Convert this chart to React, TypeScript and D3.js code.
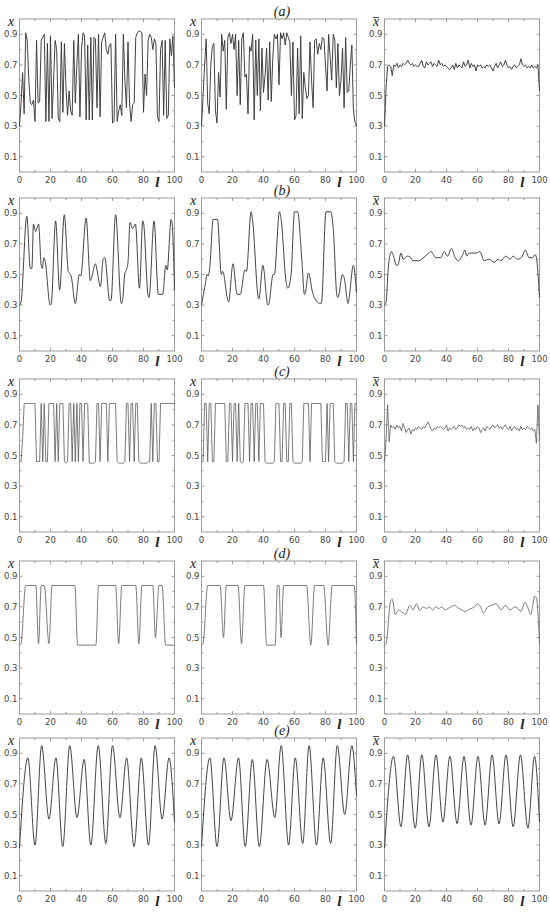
import React from "react";
import * as d3 from "d3";

// chaotic / switching regimes: values sampled at every integer l (0..100)
const aLeft = [
  0.30, 0.45, 0.65, 0.38, 0.91, 0.86, 0.60, 0.45, 0.44, 0.47,
  0.33, 0.86, 0.45, 0.46, 0.86, 0.88, 0.90, 0.33, 0.84, 0.33,
  0.89, 0.35, 0.60, 0.86, 0.80, 0.35, 0.33, 0.85, 0.39, 0.84,
  0.55, 0.37, 0.53, 0.40, 0.37, 0.86, 0.45, 0.70, 0.90, 0.36,
  0.80, 0.91, 0.89, 0.34, 0.83, 0.34, 0.88, 0.34, 0.88, 0.87,
  0.42, 0.90, 0.36, 0.85, 0.88, 0.91, 0.80, 0.77, 0.83, 0.84,
  0.32, 0.33, 0.90, 0.33, 0.40, 0.44, 0.37, 0.90, 0.60, 0.42,
  0.85, 0.45, 0.33, 0.44, 0.45, 0.88, 0.91, 0.92, 0.92, 0.91,
  0.39, 0.64, 0.50, 0.86, 0.90, 0.88, 0.80, 0.87, 0.84, 0.36,
  0.33, 0.80, 0.86, 0.37, 0.86, 0.35, 0.37, 0.87, 0.76, 0.89,
  0.55,
];
const aMiddle = [
  0.30, 0.50, 0.70, 0.87, 0.45, 0.38, 0.70, 0.82, 0.84, 0.40,
  0.32, 0.65, 0.49, 0.90, 0.79, 0.86, 0.41, 0.88, 0.91, 0.84,
  0.90, 0.80, 0.90, 0.50, 0.86, 0.44, 0.87, 0.91, 0.62, 0.64,
  0.38, 0.82, 0.79, 0.90, 0.34, 0.86, 0.50, 0.87, 0.40, 0.81,
  0.52, 0.63, 0.81, 0.47, 0.85, 0.46, 0.75, 0.90, 0.87, 0.90,
  0.57, 0.91, 0.87, 0.91, 0.83, 0.91, 0.88, 0.85, 0.50, 0.85,
  0.34, 0.37, 0.81, 0.38, 0.89, 0.35, 0.65, 0.55, 0.48, 0.50,
  0.85, 0.60, 0.42, 0.86, 0.87, 0.77, 0.84, 0.80, 0.88, 0.87,
  0.70, 0.53, 0.90, 0.75, 0.60, 0.90, 0.86, 0.55, 0.84, 0.50,
  0.60, 0.81, 0.42, 0.88, 0.52, 0.53, 0.70, 0.83, 0.40, 0.33,
  0.30,
];
const aMean = [
  0.30, 0.55, 0.69, 0.70, 0.69, 0.63, 0.70, 0.69, 0.71, 0.68,
  0.70, 0.69, 0.71, 0.70, 0.71, 0.73, 0.71, 0.70, 0.71, 0.69,
  0.70, 0.69, 0.69, 0.71, 0.73, 0.69, 0.68, 0.72, 0.70, 0.71,
  0.72, 0.69, 0.71, 0.70, 0.69, 0.73, 0.70, 0.71, 0.69, 0.70,
  0.69, 0.68, 0.67, 0.68, 0.70, 0.67, 0.71, 0.68, 0.70, 0.69,
  0.68, 0.72, 0.69, 0.70, 0.73, 0.68, 0.71, 0.69, 0.70, 0.66,
  0.70, 0.69, 0.70, 0.68, 0.69, 0.68, 0.70, 0.69, 0.70, 0.68,
  0.66, 0.69, 0.71, 0.68, 0.70, 0.72, 0.69, 0.70, 0.73, 0.70,
  0.68, 0.69, 0.67, 0.69, 0.70, 0.68, 0.69, 0.70, 0.74, 0.70,
  0.69, 0.70, 0.68, 0.69, 0.68, 0.70, 0.68, 0.69, 0.68, 0.70,
  0.53,
];

const cLeft = [
  0.46, 0.46, 0.60, 0.84, 0.84, 0.84, 0.84, 0.84, 0.84, 0.84,
  0.84, 0.46, 0.46, 0.46, 0.84, 0.46, 0.84, 0.46, 0.46, 0.84,
  0.84, 0.84, 0.84, 0.46, 0.84, 0.46, 0.84, 0.84, 0.84, 0.46,
  0.45, 0.46, 0.84, 0.84, 0.46, 0.84, 0.46, 0.84, 0.46, 0.84,
  0.84, 0.46, 0.84, 0.84, 0.84, 0.45, 0.45, 0.45, 0.45, 0.46,
  0.84, 0.84, 0.46, 0.84, 0.84, 0.84, 0.84, 0.46, 0.84, 0.84,
  0.84, 0.84, 0.84, 0.46, 0.45, 0.45, 0.45, 0.45, 0.46, 0.84,
  0.84, 0.46, 0.84, 0.84, 0.46, 0.84, 0.84, 0.46, 0.45, 0.45,
  0.45, 0.45, 0.45, 0.46, 0.46, 0.84, 0.46, 0.84, 0.84, 0.46,
  0.46, 0.84, 0.84, 0.84, 0.84, 0.84, 0.84, 0.84, 0.84, 0.84,
  0.84,
];
const cMiddle = [
  0.46, 0.46, 0.84, 0.84, 0.46, 0.84, 0.84, 0.46, 0.46, 0.84,
  0.84, 0.84, 0.84, 0.84, 0.84, 0.84, 0.46, 0.46, 0.84, 0.84,
  0.46, 0.84, 0.84, 0.46, 0.84, 0.46, 0.45, 0.46, 0.84, 0.84,
  0.84, 0.46, 0.84, 0.84, 0.46, 0.84, 0.84, 0.46, 0.84, 0.84,
  0.84, 0.46, 0.45, 0.45, 0.45, 0.45, 0.45, 0.46, 0.84, 0.84,
  0.84, 0.46, 0.46, 0.84, 0.84, 0.46, 0.46, 0.84, 0.84, 0.46,
  0.45, 0.45, 0.45, 0.45, 0.45, 0.46, 0.84, 0.84, 0.84, 0.84,
  0.46, 0.84, 0.84, 0.84, 0.84, 0.84, 0.84, 0.84, 0.46, 0.46,
  0.46, 0.84, 0.46, 0.84, 0.84, 0.84, 0.46, 0.45, 0.45, 0.45,
  0.45, 0.45, 0.46, 0.84, 0.84, 0.46, 0.84, 0.84, 0.46, 0.84,
  0.84,
];
const cMean = [
  0.46, 0.60, 0.83, 0.59, 0.70, 0.68, 0.69, 0.67, 0.70, 0.68,
  0.69, 0.66, 0.71, 0.68, 0.65, 0.67, 0.68, 0.64, 0.67, 0.66,
  0.68, 0.67, 0.69, 0.68, 0.67, 0.69, 0.68, 0.70, 0.72, 0.70,
  0.67, 0.66, 0.68, 0.67, 0.69, 0.68, 0.69, 0.68, 0.67, 0.68,
  0.70, 0.66, 0.68, 0.67, 0.68, 0.69, 0.67, 0.68, 0.70, 0.69,
  0.70, 0.68, 0.69, 0.67, 0.68, 0.67, 0.69, 0.66, 0.68, 0.67,
  0.69, 0.68, 0.65, 0.67, 0.68, 0.66, 0.69, 0.68, 0.67, 0.69,
  0.70, 0.68, 0.69, 0.70, 0.68, 0.69, 0.67, 0.69, 0.70, 0.68,
  0.67, 0.69, 0.66, 0.68, 0.69, 0.67, 0.68, 0.66, 0.69, 0.67,
  0.68, 0.67, 0.69, 0.68, 0.67, 0.68, 0.66, 0.67, 0.58, 0.83,
  0.60,
];

// smooth regimes: [l, x] key points
const bLeft = [
  [0, 0.30], [1, 0.32], [4.7, 0.88], [7, 0.54], [8, 0.54], [9, 0.83], [10.5, 0.78], [12.3, 0.83],
  [14, 0.56], [14.7, 0.54], [15.7, 0.61], [16.5, 0.59], [19.8, 0.30], [20.5, 0.31], [23.3, 0.85],
  [25.9, 0.40], [28.9, 0.89], [31.5, 0.52], [32.8, 0.50], [33.3, 0.49], [36, 0.31], [38.6, 0.50],
  [39.5, 0.49], [43, 0.87], [45.7, 0.46], [46.5, 0.48], [49, 0.57], [50, 0.53], [52.2, 0.42],
  [54, 0.60], [55, 0.61], [58.2, 0.33], [59, 0.33], [62, 0.89], [65.7, 0.31], [66.5, 0.33],
  [68, 0.51], [69, 0.53], [70, 0.58], [71.3, 0.84], [73, 0.80], [74.8, 0.83], [77.4, 0.41],
  [79.5, 0.85], [80, 0.84], [83, 0.36], [83.6, 0.35], [86.8, 0.85], [89.6, 0.37], [92.4, 0.37],
  [94.4, 0.56], [95.3, 0.53], [97.8, 0.86], [98.5, 0.83], [100, 0.40],
];
const bMiddle = [
  [0, 0.30], [2.5, 0.44], [3.6, 0.50], [4.2, 0.49], [5.4, 0.55], [7.5, 0.86], [10.3, 0.86],
  [12.8, 0.50], [13.7, 0.52], [17, 0.33], [17.5, 0.32], [20.3, 0.57], [23, 0.37], [25, 0.37],
  [28, 0.53], [29, 0.52], [32, 0.91], [33, 0.85], [36.6, 0.35], [37, 0.34], [39.6, 0.56],
  [42.8, 0.30], [43.5, 0.31], [46.2, 0.50], [47, 0.50], [50.3, 0.91], [51.4, 0.86], [54.6, 0.45],
  [55.7, 0.41], [57.8, 0.50], [60, 0.91], [62, 0.91], [64.7, 0.60], [66.4, 0.37], [67, 0.38],
  [69, 0.51], [71.7, 0.38], [73.9, 0.33], [77, 0.31], [77.5, 0.32], [80.3, 0.91], [83.5, 0.91],
  [85, 0.80], [87.4, 0.36], [88, 0.35], [91, 0.50], [92, 0.48], [94.6, 0.31], [95, 0.33],
  [98, 0.56], [100, 0.38],
];
const bMean = [
  [0, 0.30], [1, 0.32], [2.5, 0.55], [4.5, 0.65], [5.5, 0.63], [7.7, 0.56], [8.5, 0.56],
  [10.7, 0.64], [12, 0.60], [14.8, 0.62], [17, 0.61], [18, 0.59], [22, 0.59], [24, 0.60],
  [28.4, 0.64], [30, 0.65], [33, 0.61], [36.3, 0.61], [38.5, 0.65], [40.6, 0.62], [43.2, 0.67],
  [45.6, 0.61], [47.7, 0.59], [50, 0.62], [52, 0.66], [53, 0.62], [54.6, 0.64], [59, 0.64],
  [61.5, 0.65], [64.3, 0.59], [67.5, 0.60], [70.8, 0.58], [73.3, 0.60], [75, 0.59], [78.3, 0.62],
  [80.9, 0.60], [83, 0.62], [85.8, 0.60], [88.4, 0.61], [90.8, 0.66], [93.3, 0.61], [95.5, 0.61],
  [97.2, 0.63], [98, 0.61], [100, 0.35],
];

const dLeft = [
  [0, 0.45], [1, 0.46], [4, 0.84], [10.5, 0.84], [12.3, 0.46], [14, 0.84], [16, 0.84], [19, 0.46],
  [21, 0.84], [35.7, 0.84], [37.5, 0.45], [49.3, 0.45], [51, 0.84], [62, 0.84], [64, 0.46],
  [66, 0.84], [75, 0.84], [77, 0.46], [79, 0.84], [86, 0.84], [87.7, 0.50], [90, 0.84], [92, 0.84],
  [94.3, 0.45], [100, 0.45],
];
const dMiddle = [
  [0, 0.45], [1, 0.46], [4, 0.84], [12, 0.84], [14.2, 0.50], [16, 0.84], [23.6, 0.84], [25.8, 0.46],
  [28, 0.84], [40, 0.84], [42, 0.45], [47.5, 0.45], [49, 0.84], [50, 0.84], [51.3, 0.50], [53, 0.84],
  [67.8, 0.84], [70.5, 0.45], [73, 0.84], [78.8, 0.84], [81.7, 0.45], [84.3, 0.84], [98.5, 0.84],
  [100, 0.46],
];
const dMean = [
  [0, 0.45], [1, 0.46], [4, 0.74], [5, 0.75], [7, 0.65], [9, 0.68], [12, 0.66], [13.5, 0.65],
  [16.4, 0.71], [18.5, 0.68], [20.7, 0.72], [22.5, 0.68], [25, 0.70], [27, 0.69], [29, 0.70],
  [31, 0.68], [33, 0.70], [35, 0.69], [37, 0.70], [39, 0.68], [41, 0.69], [43, 0.70], [45, 0.71],
  [48, 0.69], [50, 0.68], [52, 0.67], [54, 0.68], [56, 0.69], [58, 0.70], [60, 0.72], [62, 0.70],
  [63.8, 0.66], [66.6, 0.70], [69, 0.71], [72, 0.72], [75.3, 0.68], [78, 0.71], [81, 0.68],
  [84, 0.70], [86, 0.69], [88, 0.67], [90.6, 0.73], [92, 0.71], [94.3, 0.65], [97, 0.77],
  [98, 0.76], [100, 0.46],
];

const eLeft = [
  [0, 0.28], [5.4, 0.87], [10, 0.30], [14.3, 0.95], [19, 0.47], [23.5, 0.87], [27.9, 0.29],
  [32.4, 0.95], [37.1, 0.48], [41.7, 0.86], [46, 0.30], [50.8, 0.95], [55.7, 0.31], [60, 0.95],
  [64.8, 0.48], [69.1, 0.87], [73.9, 0.29], [78.6, 0.87], [83.2, 0.30], [87.5, 0.95], [92, 0.47],
  [96.5, 0.87], [100, 0.45],
];
const eMiddle = [
  [0, 0.29], [5.4, 0.87], [10, 0.29], [14.5, 0.87], [19, 0.46], [23.9, 0.87], [28.2, 0.29],
  [32.8, 0.86], [37.3, 0.29], [42.3, 0.86], [47.3, 0.48], [51.4, 0.95], [56.2, 0.30], [60.5, 0.87],
  [65.3, 0.31], [69.4, 0.95], [74.2, 0.30], [78.5, 0.87], [83.3, 0.31], [87.6, 0.95], [92.4, 0.50],
  [97, 0.95], [100, 0.62],
];
const eMean = [
  [0, 0.28], [5.8, 0.88], [10.6, 0.42], [14.9, 0.89], [19.8, 0.41], [24.1, 0.89], [28.7, 0.42],
  [33.2, 0.89], [37.7, 0.45], [42.2, 0.88], [46.8, 0.44], [51.3, 0.88], [55.8, 0.43], [60.3, 0.88],
  [64.9, 0.43], [69.4, 0.89], [73.9, 0.44], [78.4, 0.89], [83, 0.42], [87.7, 0.89], [92.5, 0.41],
  [96.8, 0.88], [100, 0.45],
];

const rowLabels = ["(a)", "(b)", "(c)", "(d)", "(e)"];
const xTicks = [0, 20, 40, 60, 80, 100];
const yTicks = [0.1, 0.3, 0.5, 0.7, 0.9];
const yMinor = [0.2, 0.4, 0.6, 0.8];
const xMinor = [10, 30, 50, 70, 90];

const toPairs = (vals) => vals.map((v, i) => [i, v]);

const rows = [
  { label: rowLabels[0], smooth: false, series: [toPairs(aLeft), toPairs(aMiddle), toPairs(aMean)] },
  { label: rowLabels[1], smooth: true, series: [bLeft, bMiddle, bMean] },
  { label: rowLabels[2], smooth: false, series: [toPairs(cLeft), toPairs(cMiddle), toPairs(cMean)] },
  { label: rowLabels[3], smooth: true, series: [dLeft, dMiddle, dMean] },
  { label: rowLabels[4], smooth: true, series: [eLeft, eMiddle, eMean] },
];

const W = 550, H = 912;
const rowTops = [19, 198, 379, 561, 738];
const panelH = 153;
const colLefts = [19.5, 201.5, 384.5];
const panelW = 155;

const frameColor = "#9a9a9a";
const textColor = "#444";
const sans = "'DejaVu Sans', sans-serif";
const serif = "'Liberation Serif', 'DejaVu Serif', serif";

function Panel({ x0, y0, data, smooth, mean, thin }) {
  const x = d3.scaleLinear().domain([0, 100]).range([x0, x0 + panelW]);
  const y = d3.scaleLinear().domain([0, 1]).range([y0 + panelH, y0]);
  const line = d3.line()
    .x((d) => x(d[0]))
    .y((d) => y(d[1]))
    .curve(smooth ? d3.curveMonotoneX : d3.curveLinear);

  const bottom = y0 + panelH;
  const right = x0 + panelW;

  return (
    <g>
      <rect x={x0} y={y0} width={panelW} height={panelH} fill="none" stroke={frameColor} strokeWidth={1} />
      {yTicks.concat(yMinor).map((t) => {
        const len = yTicks.includes(t) ? 3 : 2;
        return (
          <g key={"y" + t}>
            <line x1={x0} x2={x0 + len} y1={y(t)} y2={y(t)} stroke={frameColor} />
            <line x1={right} x2={right - len} y1={y(t)} y2={y(t)} stroke={frameColor} />
          </g>
        );
      })}
      {xTicks.concat(xMinor).map((t) => {
        const len = xTicks.includes(t) ? 3 : 2;
        return (
          <g key={"x" + t}>
            <line x1={x(t)} x2={x(t)} y1={bottom} y2={bottom - len} stroke={frameColor} />
            <line x1={x(t)} x2={x(t)} y1={y0} y2={y0 + len} stroke={frameColor} />
          </g>
        );
      })}
      {yTicks.map((t) => (
        <text key={"yl" + t} x={x0 - 2} y={y(t) + 3} textAnchor="end" fontSize={8.5} fontFamily={sans} fill={textColor}>
          {t.toFixed(1)}
        </text>
      ))}
      {xTicks.map((t) => (
        <text key={"xl" + t} x={x(t)} y={bottom + 10.5} textAnchor="middle" fontSize={8.5} fontFamily={sans} fill={textColor}>
          {t}
        </text>
      ))}
      <text x={x(89)} y={bottom + 15} textAnchor="middle" fontSize={15} fontStyle="italic" fontWeight="bold" fontFamily={serif} fill="#222">
        l
      </text>
      <text x={x0 - 8.5} y={y0 + 6.5} textAnchor="middle" fontSize={14} fontStyle="italic" fontFamily={serif} fill="#222">
        x
      </text>
      {mean && <line x1={x0 - 11.5} x2={x0 - 5.5} y1={y0 - 1.5} y2={y0 - 1.5} stroke="#222" strokeWidth={0.8} />}
      <path d={line(data)} fill="none" stroke={thin ? "#5a5a5a" : "#3a3a3a"} strokeWidth={thin ? 0.8 : 0.95} strokeLinejoin="round" />
    </g>
  );
}

export default function App() {
  return (
    <svg width={W} height={H} style={{ position: "absolute", left: 0, top: 0, background: "#fff" }}>
      <rect width={W} height={H} fill="#fff" />
      {rows.map((row, ri) => (
        <g key={row.label}>
          <text x={282} y={rowTops[ri] - 3} textAnchor="middle" fontSize={14} fontStyle="italic" fontFamily={serif} fill="#222">
            {row.label}
          </text>
          {row.series.map((s, ci) => (
            <Panel
              key={ci}
              x0={colLefts[ci]}
              y0={rowTops[ri]}
              data={s}
              smooth={row.smooth}
              mean={ci === 2}
              thin={ri === 2 || ri === 3}
            />
          ))}
        </g>
      ))}
    </svg>
  );
}
